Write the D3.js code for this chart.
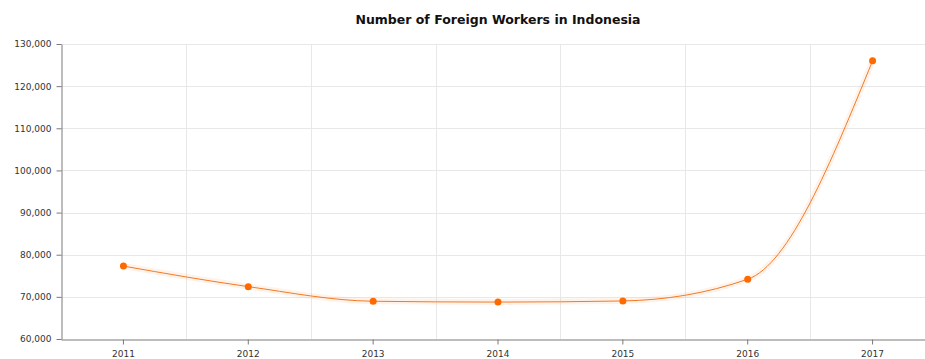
<!DOCTYPE html>
<html>
<head>
<meta charset="utf-8">
<script src="https://cdn.jsdelivr.net/npm/d3@7/dist/d3.min.js"></script>
<style>
  html, body { margin: 0; padding: 0; background: #fff; }
  svg { display: block; }
</style>
</head>
<body>
<svg id="chart" width="925" height="359"></svg>
<script>
// Foreign workers in Indonesia by year
const years = ["2011", "2012", "2013", "2014", "2015", "2016", "2017"];
const workers = [77307, 72427, 68957, 68762, 69025, 74183, 126006];
const yTicks = [60000, 70000, 80000, 90000, 100000, 110000, 120000, 130000];
const title = "Number of Foreign Workers in Indonesia";

const W = 925, H = 359;
const margin = { top: 44, right: -10, bottom: 20, left: 61 };
const innerBottom = H - margin.bottom;

const svg = d3.select("#chart");
const font = "'DejaVu Sans', Verdana, sans-serif";

const x = d3.scaleBand()
  .domain(years)
  .range([margin.left, W - margin.right])
  .padding(0);

const y = d3.scaleLinear()
  .domain([60000, 130000])
  .range([innerBottom, margin.top]);

const cx = d => x(d) + x.bandwidth() / 2;

// grid
const grid = svg.append("g").attr("stroke", "#e8e8e8").attr("stroke-width", 1);
grid.selectAll("line.h")
  .data(yTicks.slice(1))
  .join("line")
  .attr("x1", margin.left).attr("x2", W)
  .attr("y1", d => Math.round(y(d)) + 0.5)
  .attr("y2", d => Math.round(y(d)) + 0.5);
grid.selectAll("line.v")
  .data(years.slice(1))
  .join("line")
  .attr("x1", d => Math.round(x(d)) + 0.5)
  .attr("x2", d => Math.round(x(d)) + 0.5)
  .attr("y1", margin.top).attr("y2", innerBottom);

// y axis
const yAxis = svg.append("g")
  .attr("transform", `translate(${margin.left + 0.5},0)`)
  .call(d3.axisLeft(y).tickValues(yTicks).tickFormat(d3.format(",")).tickSize(5).tickSizeOuter(0));
yAxis.select(".domain").attr("stroke", "#7a7a7a");
yAxis.selectAll(".tick line").attr("stroke", "#7a7a7a");
yAxis.selectAll(".tick text")
  .attr("x", -10)
  .attr("fill", "#333")
  .style("font-family", font)
  .style("font-size", "9px");

// x axis
const xAxis = svg.append("g")
  .attr("transform", `translate(0,${innerBottom + 0.5})`)
  .call(d3.axisBottom(x).tickSize(5).tickSizeOuter(0));
xAxis.select(".domain").attr("stroke", "#7a7a7a");
xAxis.selectAll(".tick line").attr("stroke", "#7a7a7a");
xAxis.selectAll(".tick text")
  .attr("y", 11)
  .attr("fill", "#333")
  .style("font-family", font)
  .style("font-size", "9px");

// smoothed series line with soft halo
const line = d3.line()
  .x((d, i) => cx(years[i]))
  .y(d => y(d))
  .curve(d3.curveMonotoneX);

svg.append("path")
  .datum(workers)
  .attr("d", line)
  .attr("fill", "none")
  .attr("stroke", "#ff8a2a")
  .attr("stroke-opacity", 0.1)
  .attr("stroke-width", 6);

svg.append("path")
  .datum(workers)
  .attr("d", line)
  .attr("fill", "none")
  .attr("stroke", "#f07a2a")
  .attr("stroke-width", 1);

// markers
svg.append("g")
  .selectAll("circle")
  .data(workers)
  .join("circle")
  .attr("cx", (d, i) => cx(years[i]))
  .attr("cy", d => y(d))
  .attr("r", 3.5)
  .attr("fill", "#ff6a00");

// title
svg.append("text")
  .attr("x", (margin.left + W - margin.right) / 2)
  .attr("y", 24)
  .attr("text-anchor", "middle")
  .attr("fill", "#111")
  .style("font-family", font)
  .style("font-weight", "bold")
  .style("font-size", "12.5px")
  .text(title);
</script>
</body>
</html>
